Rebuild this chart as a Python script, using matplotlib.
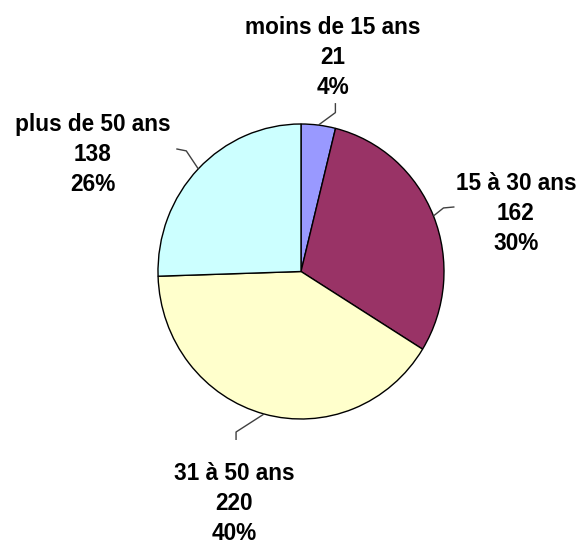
import matplotlib

matplotlib.use("Agg")
import matplotlib.pyplot as plt
import numpy as np

# data
categories = ["moins de 15 ans", "15 à 30 ans", "31 à 50 ans", "plus de 50 ans"]
counts = [21, 162, 220, 138]
percents = ["4%", "30%", "40%", "26%"]

colors = ["#9999FF", "#993366", "#FFFFCC", "#CCFFFF"]

W, H = 577, 544
# pie box in pixels (y measured from top)
CX, CY = 301, 271.5
RX, RY = 143, 147.5

# label block centres (x, y of middle line, y from top)
label_pos = [(333, 55), (516, 211), (234, 501), (93, 152)]
# leader: elbow offset from edge, then short end offset (pixels, y up)
leader_elbow = [(17, 12.5), (10, 8), (-28, -18), (-12, 18)]
leader_end = [(0, 9.5), (11, 1), (0, -8), (-10, 2)]
LINE_GAP = 30

FONT = dict(family="Liberation Sans", fontweight="bold", fontsize=16.3)

fig = plt.figure(figsize=(W / 100, H / 100), dpi=100)
fig.patch.set_facecolor("white")

# pie axes sized to the (slightly tall) ellipse
ax = fig.add_axes([(CX - RX) / W, (H - CY - RY) / H, 2 * RX / W, 2 * RY / H])
wedges, _ = ax.pie(
    counts,
    colors=colors,
    startangle=90,
    counterclock=False,
    wedgeprops=dict(edgecolor="black", linewidth=1.0),
)
ax.set_aspect("auto")
ax.set_xlim(-1, 1)
ax.set_ylim(-1, 1)
ax.axis("off")

# overlay in pixel coordinates (y up)
ov = fig.add_axes([0, 0, 1, 1], zorder=5)
ov.set_xlim(0, W)
ov.set_ylim(0, H)
ov.axis("off")

for i, w in enumerate(wedges):
    mid = np.deg2rad((w.theta1 + w.theta2) / 2)
    ex = CX + RX * np.cos(mid)
    ey = (H - CY) + RY * np.sin(mid)
    bx, by = ex + leader_elbow[i][0], ey + leader_elbow[i][1]
    tx, ty = bx + leader_end[i][0], by + leader_end[i][1]
    ov.plot([ex, bx, tx], [ey, by, ty], color="#404040", lw=1.0, solid_capstyle="butt")

    lx, ly = label_pos[i]
    lines = [categories[i], str(counts[i]), percents[i]]
    for k, s in enumerate(lines):
        ov.text(lx, H - (ly + (k - 1) * LINE_GAP), s, ha="center", va="center_baseline",
                color="black", **FONT)

fig.savefig("out.png", dpi=100)
